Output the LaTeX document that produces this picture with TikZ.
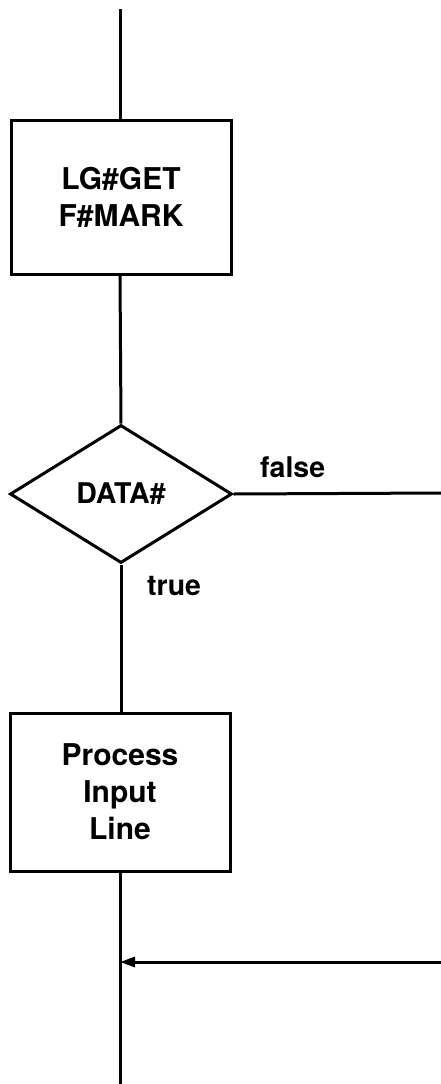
\documentclass[tikz,border=0pt]{standalone}
\usepackage{fontspec}
\setmainfont{TeX Gyre Heros}
\usetikzlibrary{shapes.geometric,arrows.meta}
\begin{document}
\begin{tikzpicture}[x=1pt,y=-1pt,
  flow/.style={line width=3pt},
  procbox/.style={draw, line width=3pt, rectangle, inner sep=0pt,
    align=center, font=\bfseries\fontsize{30}{37}\selectfont},
  decision/.style={draw, line width=3pt, diamond, inner sep=0pt,
    font=\bfseries\fontsize{28.5}{34}\selectfont},
  edgelabel/.style={inner sep=0pt, anchor=base west,
    font=\bfseries\fontsize{28.5}{34}\selectfont}
]
\useasboundingbox (0,0) rectangle (441,1084);
\fill[white] (0,0) rectangle (441,1084);

% entry and exit points of the main flow
\coordinate (entry) at (120,9);
\coordinate (exit)  at (120,1084);
\coordinate (falseout) at (441,493);
\coordinate (rejoin) at (441,962);
\coordinate (merge)  at (120,962);

% blocks
\node[procbox, minimum width=220pt, minimum height=154pt] (get) at (121,197)
  {LG\#GET\\F\#MARK};
\node[decision, minimum width=222pt, minimum height=138pt] (data) at (121,494)
  {DATA\#};
\node[procbox, minimum width=220pt, minimum height=158pt] (proc) at (120,792)
  {Process\\Input\\Line};

% connectors
\draw[flow] (entry) -- (entry |- get.north);
\draw[flow] (get.south -| entry) -- (data.north);
\draw[flow] (data.east) -- (falseout);
\draw[flow] (data.south) -- (proc.north -| data.south);
\draw[flow] (proc.south -| exit) -- (exit);
\draw[flow, -{Triangle[length=15pt,width=10pt]}] (rejoin) -- (merge);

% branch labels
\node[edgelabel] (lfalse) at (260,477) {false};
\node[edgelabel] (ltrue)  at (147,595) {true};
\end{tikzpicture}
\end{document}
